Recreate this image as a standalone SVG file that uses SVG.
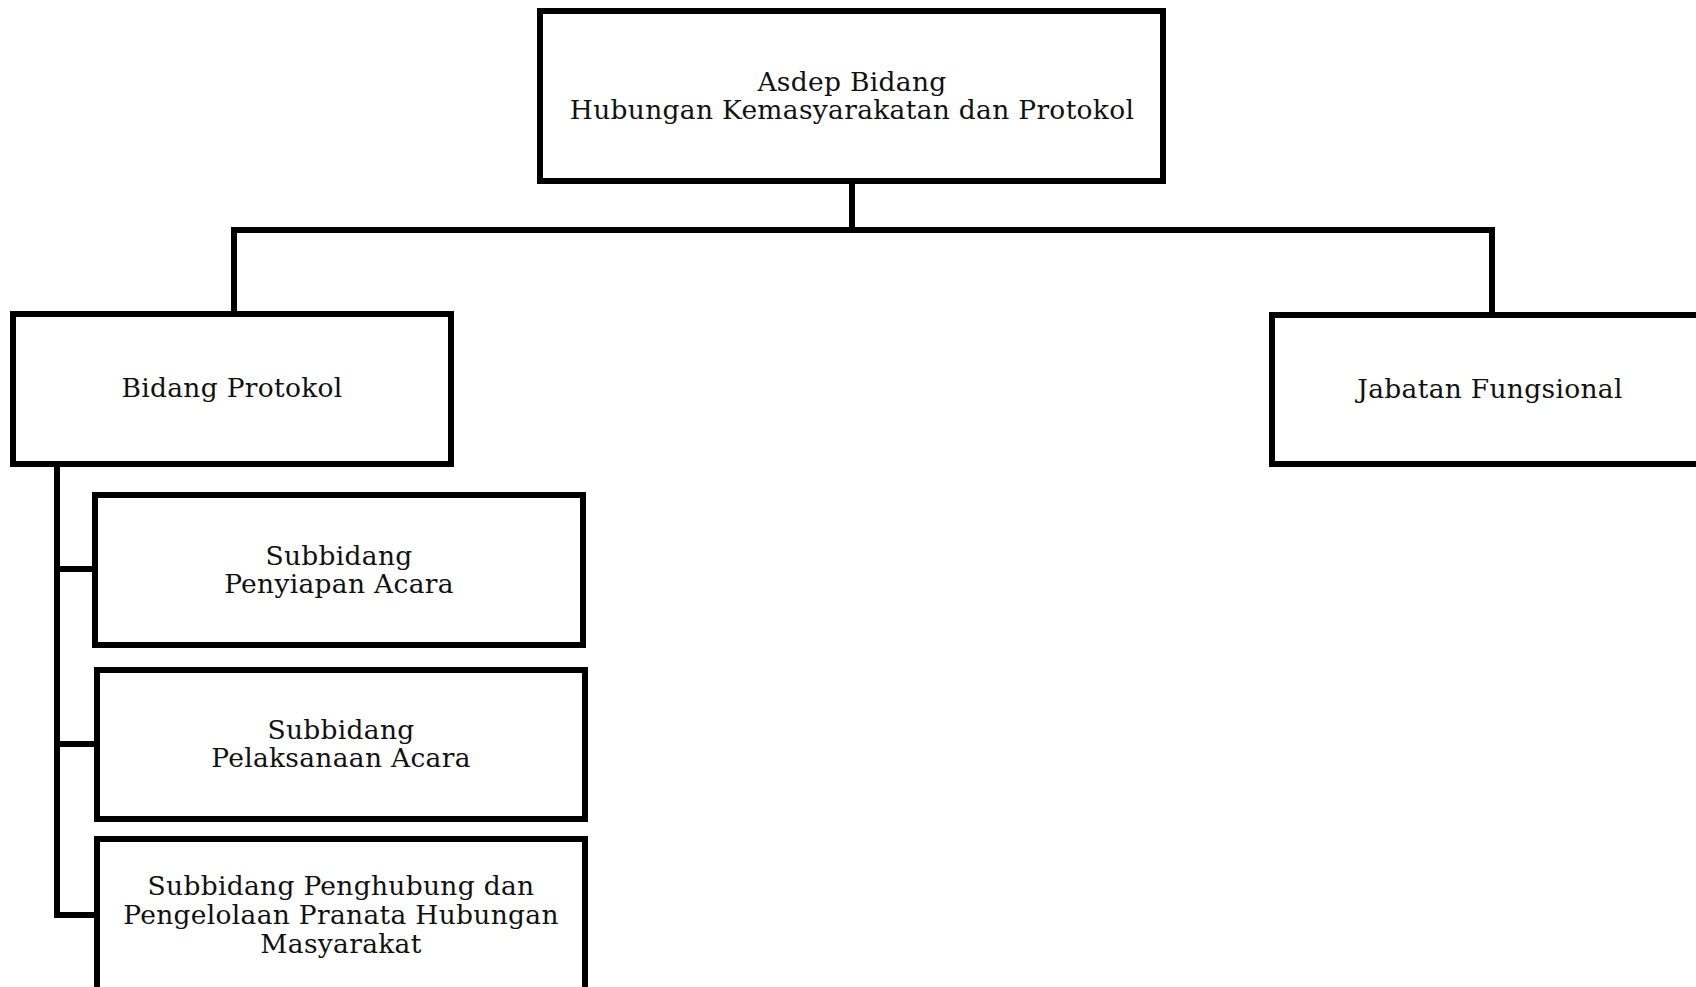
<svg xmlns="http://www.w3.org/2000/svg" width="1696" height="987" viewBox="0 0 1696 987">
<style>
.box{fill:#fff;stroke:#000;stroke-width:6}
.conn{fill:none;stroke:#000;stroke-width:6;stroke-linejoin:miter;stroke-linecap:square}
text{font-family:"DejaVu Serif","Liberation Serif",serif;font-size:26.5px;letter-spacing:0.3px;fill:#111;text-anchor:middle}
</style>
<rect width="1696" height="987" fill="#fff"/>
<g id="connectors">
<path class="conn" d="M852 181 V230"/>
<path class="conn" d="M234 314 V230 H1492 V315"/>
<path class="conn" d="M95 569 H57 V464 M57 569 V915 H97 M57 744 H97"/>
</g>
<g id="asdep">
<rect class="box" x="540" y="11" width="623" height="170"/>
<text x="852" y="91">Asdep Bidang</text>
<text x="852" y="119">Hubungan Kemasyarakatan dan Protokol</text>
</g>
<g id="bidang-protokol">
<rect class="box" x="13" y="314" width="438" height="150"/>
<text x="232" y="397">Bidang Protokol</text>
</g>
<g id="jabatan-fungsional">
<rect class="box" x="1272" y="315" width="440" height="149"/>
<text x="1490" y="398">Jabatan Fungsional</text>
</g>
<g id="sub-penyiapan">
<rect class="box" x="95" y="495" width="488" height="150"/>
<text x="339" y="565">Subbidang</text>
<text x="339" y="593">Penyiapan Acara</text>
</g>
<g id="sub-pelaksanaan">
<rect class="box" x="97" y="670" width="488" height="149"/>
<text x="341" y="739">Subbidang</text>
<text x="341" y="767">Pelaksanaan Acara</text>
</g>
<g id="sub-penghubung">
<rect class="box" x="97" y="839" width="488" height="160"/>
<text x="341" y="895">Subbidang Penghubung dan</text>
<text x="341" y="924">Pengelolaan Pranata Hubungan</text>
<text x="341" y="953">Masyarakat</text>
</g>
</svg>
